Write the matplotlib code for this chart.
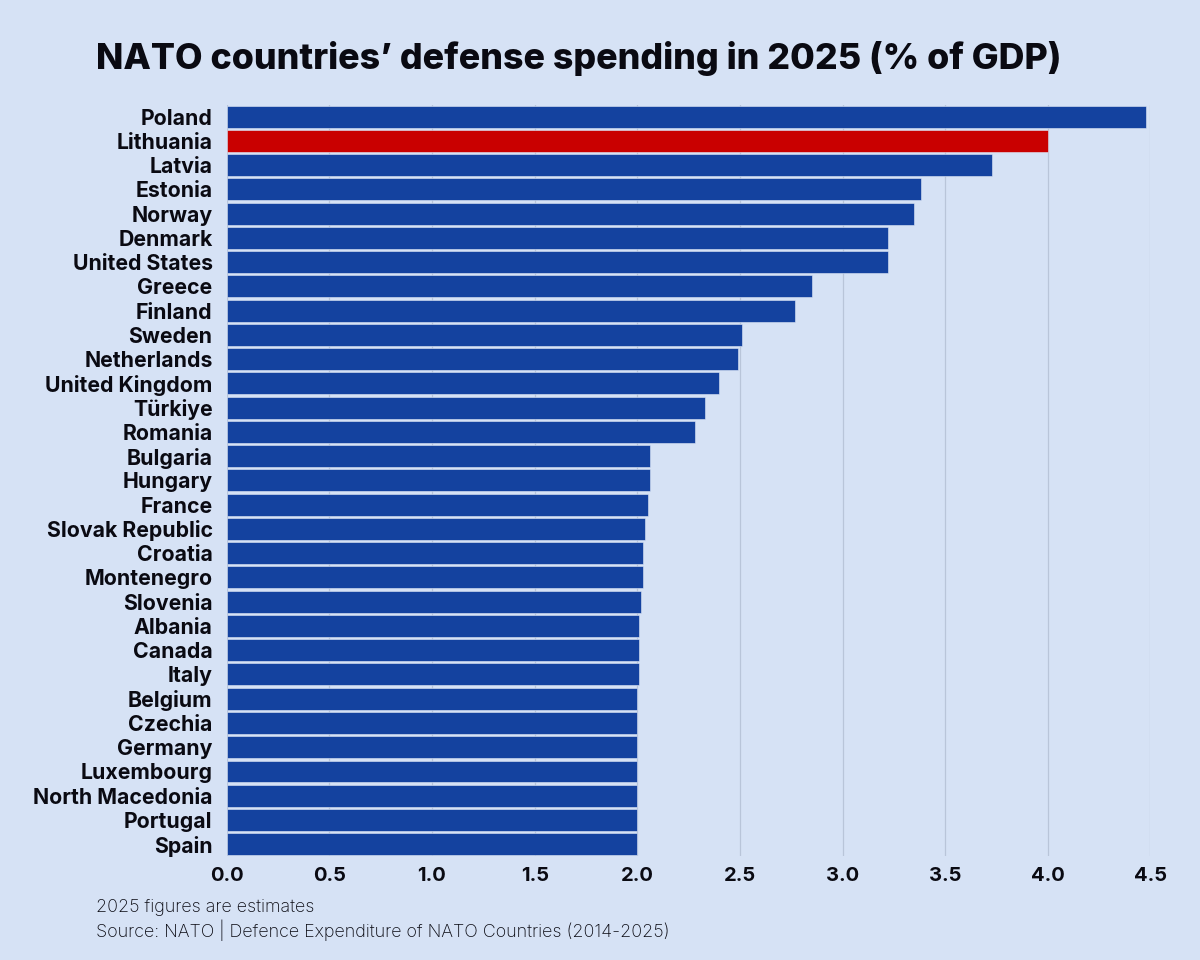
import matplotlib
matplotlib.use('Agg')
import matplotlib.pyplot as plt

countries = ['Poland', 'Lithuania', 'Latvia', 'Estonia', 'Norway', 'Denmark', 'United States',
	'Greece', 'Finland', 'Sweden', 'Netherlands', 'United Kingdom', 'Türkiye', 'Romania',
	'Bulgaria', 'Hungary', 'France', 'Slovak Republic', 'Croatia', 'Montenegro', 'Slovenia',
	'Albania', 'Canada', 'Italy', 'Belgium', 'Czechia', 'Germany', 'Luxembourg',
	'North Macedonia', 'Portugal', 'Spain']
spending = [4.48, 4.00, 3.73, 3.38, 3.35, 3.22, 3.22, 2.85, 2.77, 2.51, 2.49, 2.40, 2.33, 2.28,
	2.06, 2.06, 2.05, 2.04, 2.03, 2.03, 2.02, 2.01, 2.01, 2.01, 2.00, 2.00, 2.00, 2.00, 2.00, 2.00, 2.00]
ticks = [0.0, 0.5, 1.0, 1.5, 2.0, 2.5, 3.0, 3.5, 4.0, 4.5]

BG = '#d6e2f5'
BLUE = '#14429f'
RED = '#c90000'
INK = '#0a0a12'

plt.rcParams['font.family'] = ['Inter', 'DejaVu Sans']

fig = plt.figure(figsize=(12, 9.6), dpi=100, facecolor=BG)
# axes box in pixels of the 1200x960 picture
ax = fig.add_axes([226.7 / 1200, 1 - 856.3 / 960, (1150.5 - 226.7) / 1200, (856.3 - 104.5) / 960])
ax.set_facecolor(BG)

colors = [RED if c == 'Lithuania' else BLUE for c in countries]
ax.barh(range(len(countries)), spending, height=0.9, color=colors, edgecolor='#dfe8f7',
	linewidth=0.4, zorder=2)

ax.set_xlim(0, 4.5)
ax.set_ylim(len(countries) - 0.5, -0.5)
ax.set_yticks(range(len(countries)))
ax.set_yticklabels(countries, fontsize=15.3, fontweight='bold', color=INK)
ax.set_xticks(ticks)
ax.set_xticklabels(['%.1f' % t for t in ticks], fontsize=14.5, fontweight='bold', color=INK)
ax.tick_params(axis='both', length=0)
ax.tick_params(axis='y', pad=10.2)
ax.tick_params(axis='x', pad=7.5)
ax.grid(axis='x', color='#b9c5d9', linewidth=0.9, zorder=1)
ax.set_axisbelow(True)
for s in ax.spines.values():
	s.set_visible(False)

fig.text(96 / 1200, 1 - 58 / 960, 'NATO countries’ defense spending in 2025 (% of GDP)',
	fontsize=25.75, fontweight='heavy', color=INK, va='center', ha='left')
fig.text(96 / 1200, 1 - 908 / 960, '2025 figures are estimates', fontsize=12.9,
	fontweight='light', color=INK, va='center', ha='left')
fig.text(96 / 1200, 1 - 930 / 960, 'Source: NATO | Defence Expenditure of NATO Countries (2014-2025)',
	fontsize=12.9, fontweight='light', color=INK, va='center', ha='left')

fig.savefig('out.png', dpi=100, facecolor=BG)
